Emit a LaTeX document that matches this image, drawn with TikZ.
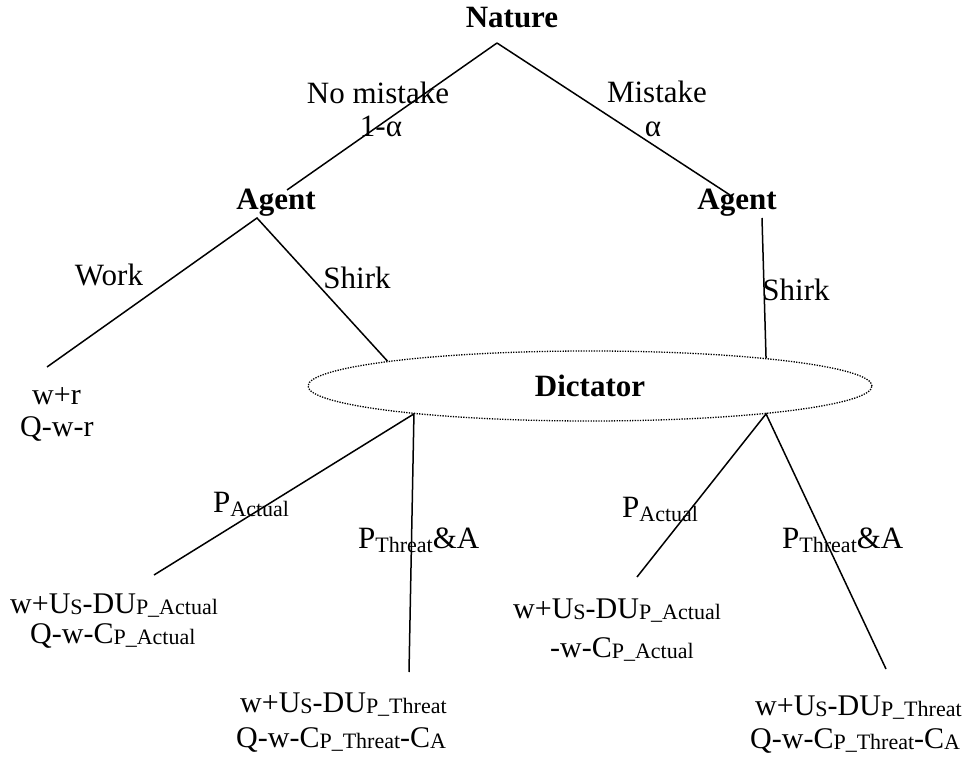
\documentclass[tikz,border=0pt]{standalone}
\usepackage{fontspec}
\setmainfont{Liberation Serif}
\usetikzlibrary{shapes.geometric}
\newcommand\lsub[1]{\raisebox{-4.5pt}{\fontsize{22}{22}\selectfont #1}}
\newcommand\psub[1]{\raisebox{-1.5pt}{\fontsize{22}{22}\selectfont #1}}
\begin{document}
\begin{tikzpicture}[x=1pt,y=-1pt,
  lbl/.style={inner sep=0pt,font=\fontsize{31}{36}\selectfont},
  player/.style={inner sep=0pt,font=\fontsize{31}{36}\selectfont\bfseries},
  pay/.style={inner sep=0pt,anchor=base west,font=\fontsize{30}{36}\selectfont},
  edge/.style={line width=1.5pt},
  infoset/.style={draw,ellipse,dash pattern=on 1.3pt off 1.3pt,line width=1.3pt,
    minimum width=564pt,minimum height=70pt,inner sep=0pt,
    font=\fontsize{31}{36}\selectfont\bfseries}]
\useasboundingbox (0,0) rectangle (967,767);
% player labels
\node[player] (nature) at (512,18) {Nature};
\node[player] (agentL) at (276,203) {Agent};
\node[player] (agentR) at (737,203) {Agent};
\node[infoset] (dict) at (590,386) {Dictator};
% tree vertices
\coordinate (n0) at (497,43);
\coordinate (aLtop) at (287,190);
\coordinate (aL) at (257,218);
\coordinate (aRtop) at (730,195);
\coordinate (aR) at (762,218);
\coordinate (work) at (47,367);
\coordinate (shirkL) at (dict.173.7);
\coordinate (shirkR) at (dict.9.6);
\coordinate (dL) at (dict.189.8);
\coordinate (dR) at (dict.351.6);
\coordinate (pAL) at (154,575);
\coordinate (pTL) at (409,672);
\coordinate (pAR) at (637,577);
\coordinate (pTR) at (886,669);
% edges
\draw[edge] (n0) -- (aLtop);
\draw[edge] (n0) -- (aRtop);
\draw[edge] (work) -- (aL) -- (shirkL);
\draw[edge] (aR) -- (shirkR);
\draw[edge] (pAL) -- (dL) -- (pTL);
\draw[edge] (pAR) -- (dR) -- (pTR);
% move labels
\node[lbl] (lnm) at (378,93) {No mistake};
\node[lbl] (lnma) at (381,126) {1-α};
\node[lbl] (lm) at (657,92) {Mistake};
\node[lbl] (lma) at (653,129) {α};
\node[lbl] (lwork) at (109,275) {Work};
\node[lbl] (lshL) at (357,278) {Shirk};
\node[lbl] (lshR) at (796,290) {Shirk};
\node[lbl,anchor=base west] (lpaL) at (213,512) {P\lsub{Actual}};
\node[lbl,anchor=base west] (lptL) at (358,548) {P\lsub{Threat}\&A};
\node[lbl,anchor=base west] (lpaR) at (622,517) {P\lsub{Actual}};
\node[lbl,anchor=base west] (lptR) at (782,548) {P\lsub{Threat}\&A};
% payoffs
\node[pay] (w1) at (32,405) {w+r};
\node[pay] (w2) at (20,436) {Q-w-r};
\node[pay] (a1) at (10,613) {w+U\psub{S}-DU\psub{P\_Actual}};
\node[pay] (a2) at (30,643) {Q-w-C\psub{P\_Actual}};
\node[pay] (b1) at (240,712) {w+U\psub{S}-DU\psub{P\_Threat}};
\node[pay] (b2) at (236,747) {Q-w-C\psub{P\_Threat}-C\psub{A}};
\node[pay] (c1) at (513,618) {w+U\psub{S}-DU\psub{P\_Actual}};
\node[pay] (c2) at (550,657) {-w-C\psub{P\_Actual}};
\node[pay] (d1) at (755,715) {w+U\psub{S}-DU\psub{P\_Threat}};
\node[pay] (d2) at (750,748) {Q-w-C\psub{P\_Threat}-C\psub{A}};
\end{tikzpicture}
\end{document}
